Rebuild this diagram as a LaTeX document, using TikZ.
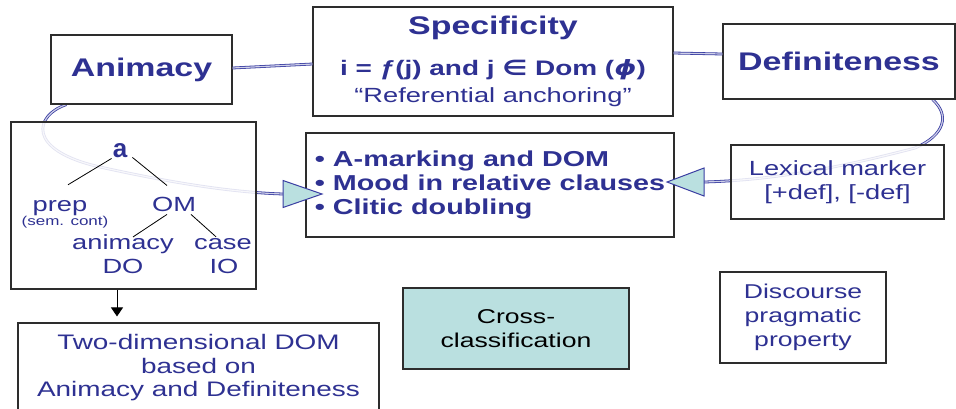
\documentclass[tikz,border=0pt]{standalone}
\usepackage{fontspec}
\setmainfont{Liberation Sans}[FakeStretch=1.33]
\newfontfamily\plainsans{Liberation Sans}
\newfontfamily\symfont{DejaVu Sans}[FakeStretch=1.33]
\usetikzlibrary{arrows.meta,calc}
\definecolor{txtblue}{RGB}{46,49,146}
\definecolor{linkblue}{RGB}{58,62,162}
\definecolor{tealfill}{RGB}{186,224,224}
\definecolor{boxline}{RGB}{45,45,45}
\pgfdeclarelayer{background}
\pgfdeclarelayer{foreground}
\pgfsetlayers{background,main,foreground}
\tikzset{
 box/.style={draw=boxline, line width=1.1pt, fill=white, fill opacity=0.85, text opacity=1, draw opacity=1, inner sep=0pt, align=center, text=txtblue},
 link/.style={draw=linkblue, line width=0.8pt, double=linkblue!25!white, double distance=1.2pt},
 headtri/.style={draw=linkblue, line width=1pt, fill=tealfill, line join=miter},
 treeline/.style={draw=black, line width=0.8pt},
 treelabel/.style={text=txtblue, inner sep=1pt, anchor=base},
 downarrow/.style={draw=black, line width=1pt, -{Triangle[length=9pt,width=12pt]}},
 titlefont/.style={font=\fontsize{25.5}{30}\selectfont\bfseries},
 bodyfont/.style={font=\fontsize{20.5}{24}\selectfont},
}
\begin{document}
\begin{tikzpicture}[x=1pt,y=-1pt]
\useasboundingbox (0,0) rectangle (956,408);
% title boxes
\node[box, titlefont, minimum width=181pt, minimum height=69pt] (anim) at (141.5,69.5) {Animacy};
\node[box, minimum width=360pt, minimum height=109pt, font=\fontsize{20.5}{27.5}\selectfont] (spec) at (493,61.5)
 {{\fontsize{25.5}{30}\selectfont\bfseries Specificity}\\[13pt]
  {\fontsize{21}{26}\selectfont\bfseries i = ƒ(j) and j {\symfont∈} Dom ({\symfont\itshape ϕ})}\\
  “Referential anchoring”};
\node[box, titlefont, minimum width=232pt, minimum height=75pt] (def) at (839,61.5) {Definiteness};
% tree box
\node[box, minimum width=245pt, minimum height=167pt] (tree) at (133.5,205.5) {};
\node[treelabel, font=\plainsans\fontsize{26}{30}\selectfont\bfseries] (na) at (120,157) {a};
\node[treelabel, bodyfont] (prep) at (60,211) {prep};
\node[treelabel, font=\fontsize{12.8}{15}\selectfont] (sem) at (65,225) {(sem. cont)};
\node[treelabel, bodyfont] (om) at (174,211) {OM};
\node[treelabel, bodyfont] (anm) at (123,249) {animacy};
\node[treelabel, bodyfont] (cs) at (223,249) {case};
\node[treelabel, bodyfont] (nDO) at (123,273) {DO};
\node[treelabel, bodyfont] (nIO) at (224,273) {IO};
% other boxes
\node[box, minimum width=368pt, minimum height=104pt, align=left, font=\fontsize{21.6}{24}\selectfont\bfseries] (bul) at (490,185)
 {• A-marking and DOM\\• Mood in relative clauses\\• Clitic doubling};
\node[box, bodyfont, minimum width=213pt, minimum height=74pt] (lex) at (837.5,182) {Lexical marker\\{[}+def], [-def]};
\node[box, font=\fontsize{21}{23.5}\selectfont, minimum width=361pt, minimum height=90pt] (two) at (198.5,368)
 {Two-dimensional DOM\\based on\\Animacy and Definiteness};
\node[box, fill=tealfill, fill opacity=1, text=black, font=\fontsize{20}{24}\selectfont, minimum width=226pt, minimum height=81pt] (cross) at (516,328.5) {Cross-\\classification};
\node[box, font=\fontsize{20}{24}\selectfont, minimum width=166pt, minimum height=91pt] (disc) at (803,317.5) {Discourse\\pragmatic\\property};
% tree lines
\draw[treeline] (na.south west) -- ($(prep.north)+(8,-14)$);
\draw[treeline] ($(na.south east)+(4,-1)$) -- ($(om.north)+(-7,-10)$);
\draw[treeline] ($(om.south)+(-7,2)$) -- ($(anm.north)+(10,4)$);
\draw[treeline] ($(om.south)+(17,2)$) -- ($(cs.north)+(-7,0)$);
\draw[downarrow] ([xshift=-16.5pt]tree.south) -- ([xshift=-81.5pt,yshift=6pt]two.north);
% links between title boxes
\draw[link] ([yshift=1.5pt]anim.east) -- ([yshift=-2.5pt]spec.west);
\draw[link] ([yshift=8.5pt]spec.east) -- ([yshift=7.5pt]def.west);
% arrow tips
\coordinate (tipL) at (322,194);
\coordinate (tipR) at (667,182);
\begin{pgfonlayer}{background}
\draw[link] ([xshift=16pt]anim.south west) .. controls (35,115) and (25,150) .. (100,167)
   .. controls (150,178) and (220,192) .. ([xshift=-39pt]tipL);
\draw[link] ([xshift=-23pt]def.south east) .. controls (950,115) and (945,135) .. (915,148)
   .. controls (850,165) and (780,180) .. ([xshift=37pt]tipR);
\end{pgfonlayer}
\begin{pgfonlayer}{foreground}
\draw[headtri] (tipL) -- ++(-39,-13.5) -- ++(0,27) -- cycle;
\draw[headtri] (tipR) -- ++(37,-14) -- ++(0,28) -- cycle;
\end{pgfonlayer}
\end{tikzpicture}
\end{document}
